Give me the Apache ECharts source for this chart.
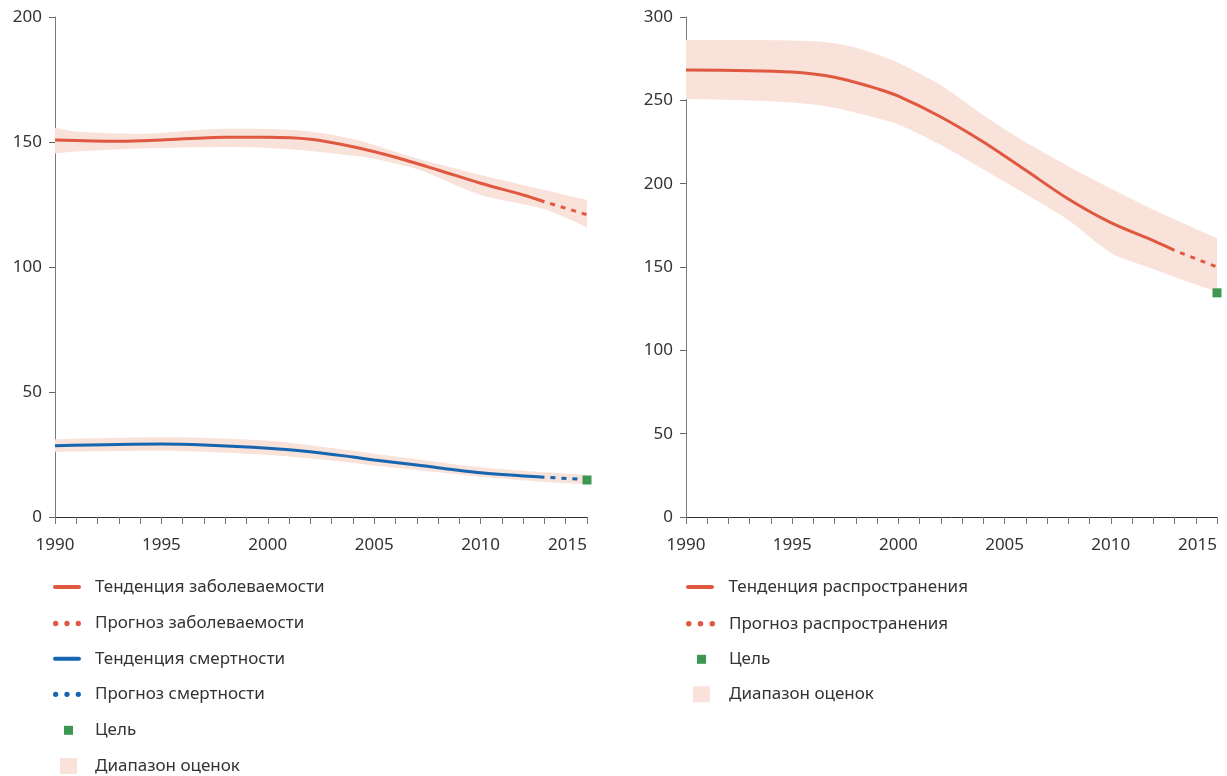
<!DOCTYPE html>
<html>
<head>
<meta charset="utf-8">
<script src="https://cdn.jsdelivr.net/npm/echarts@6/dist/echarts.min.js"></script>
<style>
html,body{margin:0;padding:0;background:#fff}
#chart{width:1227px;height:776px}
</style>
</head>
<body>
<div id="chart"></div>
<script>
// --- левый график: заболеваемость и смертность ---
var incTrendYears = [1990,1993,1995,1998,2000,2002,2004,2006,2008,2010,2012,2013];
var incTrend      = [150.8,150.3,150.8,151.9,151.9,151.1,148.1,143.9,138.8,133.5,128.8,126.1];
var incProjYears  = [2013,2015];
var incProj       = [126.1,120.9];
var incBandYears  = [1990,1991,1994,1998,2000,2002,2004,2005,2007,2008,2010,2013,2015];
var incUpper      = [155.7,154.2,153.3,155.3,155.2,154.2,151.2,148.8,143.5,141.2,136.8,130.8,126.8];
var incLower      = [145.4,146.2,147.4,148.0,147.6,146.4,144.5,143.3,139.2,135.8,128.8,123.1,115.9];

var mortTrendYears = [1990,1995,1997,2000,2002,2004,2005,2007,2010,2013];
var mortTrend      = [28.5,29.2,28.8,27.5,26.1,24.0,22.8,20.8,17.7,15.9];
var mortProjYears  = [2013,2015];
var mortProj       = [15.9,15.0];
var mortBandYears  = [1990,1995,2000,2003,2005,2007,2010,2013,2015];
var mortUpper      = [31.1,31.9,30.5,27.6,25.3,23.1,19.9,17.9,16.9];
var mortLower      = [26.1,26.5,24.8,22.6,20.6,18.8,16.1,14.0,13.1];

var leftTargetYears  = [2015];
var leftTargetValues = [14.8];

// --- правый график: распространённость ---
var prevTrendYears = [1990,1993,1995,1996,1997,1998,1999,2000,2002,2004,2006,2008,2010,2012,2013];
var prevTrend      = [268.2,267.8,267.0,265.8,263.8,260.7,257.0,252.5,240.0,225.0,208.0,190.8,176.6,165.8,160.0];
var prevProjYears  = [2013,2015];
var prevProj       = [160.0,150.0];
var prevBandYears  = [1990,1994,1996,1997,1998,1999,2000,2002,2004,2006,2008,2010,2012,2013,2015];
var prevUpper      = [286.2,286.1,285.5,284.2,281.5,277.5,272.5,259.0,241.0,224.8,210.5,197.1,184.4,178.7,167.2];
var prevLower      = [250.8,249.4,247.5,245.5,242.5,239.3,235.5,223.2,208.5,193.7,178.2,158.6,148.8,144.0,135.2];

var rightTargetYears  = [2015];
var rightTargetValues = [134.5];

var leftYTicks  = [0, 200, 50];   // min, max, шаг
var rightYTicks = [0, 300, 50];

var RED = '#e05840', BLUE = '#1565b0', BAND = '#f9e2d9', GREEN = '#3d9651';
var FONT = '"Noto Sans", sans-serif';
var TEXT = '#333';

var ICON_LINE = 'path://M2,0 L26,0 A2,2 0 0 1 26,4 L2,4 A2,2 0 0 1 2,0 Z';
var ICON_DOTS = 'path://M0,2.75 A2.75,2.75 0 1 1 5.5,2.75 A2.75,2.75 0 1 1 0,2.75 Z ' +
	'M11.75,2.75 A2.75,2.75 0 1 1 17.25,2.75 A2.75,2.75 0 1 1 11.75,2.75 Z ' +
	'M23.5,2.75 A2.75,2.75 0 1 1 29,2.75 A2.75,2.75 0 1 1 23.5,2.75 Z';

function pairs(xs, ys){
	var out = [];
	for(var i=0;i<xs.length;i++){
		out.push([xs[i], ys[i]]);
	}
	return out;
}

// полоса = нижняя граница + (верхняя - нижняя) в стеке;
// значение идёт первым измерением, чтобы стек шёл по оси Y, а не по X
function bandSeries(id, idx, years, lower, upper){
	var base = [], diff = [];
	for(var i=0;i<years.length;i++){
		base.push([lower[i], years[i]]);
		diff.push([upper[i] - lower[i], years[i]]);
	}
	return [{
		name: id + '-base', type: 'line', xAxisIndex: idx, yAxisIndex: idx,
		stack: id, data: base, encode: { x: 1, y: 0 }, smooth: 0.3, symbol: 'none',
		lineStyle: { opacity: 0, width: 0 }, silent: true, z: 1
	},{
		name: 'Диапазон оценок', type: 'line', xAxisIndex: idx, yAxisIndex: idx,
		stack: id, data: diff, encode: { x: 1, y: 0 }, smooth: 0.3, symbol: 'none',
		itemStyle: { color: BAND },
		lineStyle: { opacity: 0, width: 0 },
		areaStyle: { color: BAND, opacity: 1 }, silent: true, z: 1
	}];
}

function lineSeries(name, idx, years, values, color, dotted){
	var ls = { color: color, width: 3 };
	if(dotted){
		ls.type = [5, 6];
		ls.dashOffset = 5;
	}
	return {
		name: name, type: 'line', xAxisIndex: idx, yAxisIndex: idx,
		data: pairs(years, values), smooth: dotted ? false : 0.3, symbol: 'none',
		itemStyle: { color: color }, lineStyle: ls, z: 3
	};
}

function targetSeries(idx, years, values){
	return {
		name: 'Цель', type: 'scatter', xAxisIndex: idx, yAxisIndex: idx,
		symbol: 'rect', symbolSize: 9, itemStyle: { color: GREEN, opacity: 1 },
		data: pairs(years, values), z: 5
	};
}

function xAxisDef(idx){
	return {
		gridIndex: idx, type: 'value', min: 1990, max: 2015, interval: 1,
		axisLine: { lineStyle: { color: '#333', width: 1 } },
		axisTick: { length: 7, lineStyle: { color: '#777' } },
		axisLabel: {
			margin: 20, fontSize: 17, color: TEXT, fontFamily: FONT,
			alignMaxLabel: 'right',
			formatter: function(v){ return v % 5 === 0 ? String(v) : ''; }
		},
		splitLine: { show: false }
	};
}

function yAxisDef(idx, t){
	return {
		gridIndex: idx, type: 'value', min: t[0], max: t[1], interval: t[2],
		axisLine: { show: true, lineStyle: { color: '#7a7a7a', width: 1 } },
		axisTick: { show: true, length: 6, lineStyle: { color: '#666' } },
		axisLabel: { margin: 13, fontSize: 17, color: TEXT, fontFamily: FONT },
		splitLine: { show: false }
	};
}

// одна легенда на каждую строку, чтобы задать свой размер значка
function legendRow(name, left, centerY, w, h, icon, color, pad){
	return {
		data: [{ name: name, icon: icon, itemStyle: { color: color, borderWidth: 0 } }],
		left: left, top: centerY - 7.5, itemWidth: w, itemHeight: h, padding: 0,
		selectedMode: false,
		textStyle: { fontSize: 17, color: TEXT, fontFamily: FONT, padding: [0,0,0,pad] }
	};
}

var myCharts = echarts.init(document.getElementById('chart'));

var series = []
	.concat(bandSeries('incBand', 0, incBandYears, incLower, incUpper))
	.concat(bandSeries('mortBand', 0, mortBandYears, mortLower, mortUpper))
	.concat(bandSeries('prevBand', 1, prevBandYears, prevLower, prevUpper));
series.push(lineSeries('Тенденция заболеваемости', 0, incTrendYears, incTrend, RED, false));
series.push(lineSeries('Прогноз заболеваемости', 0, incProjYears, incProj, RED, true));
series.push(lineSeries('Тенденция смертности', 0, mortTrendYears, mortTrend, BLUE, false));
series.push(lineSeries('Прогноз смертности', 0, mortProjYears, mortProj, BLUE, true));
series.push(targetSeries(0, leftTargetYears, leftTargetValues));
series.push(lineSeries('Тенденция распространения', 1, prevTrendYears, prevTrend, RED, false));
series.push(lineSeries('Прогноз распространения', 1, prevProjYears, prevProj, RED, true));
series.push(targetSeries(1, rightTargetYears, rightTargetValues));

var option = {
	animation: false,
	backgroundColor: '#fff',
	grid: [
		{ left: 55, top: 17, width: 532, height: 500 },
		{ left: 686, top: 17, width: 531, height: 500 }
	],
	xAxis: [ xAxisDef(0), xAxisDef(1) ],
	yAxis: [ yAxisDef(0, leftYTicks), yAxisDef(1, rightYTicks) ],
	legend: [
		legendRow('Тенденция заболеваемости', 53, 586, 28, 4, ICON_LINE, RED, 9),
		legendRow('Прогноз заболеваемости', 53, 622.5, 28, 5.3, ICON_DOTS, RED, 9),
		legendRow('Тенденция смертности', 53, 657.7, 28, 4, ICON_LINE, BLUE, 9),
		legendRow('Прогноз смертности', 53, 693.3, 28, 5.3, ICON_DOTS, BLUE, 9),
		legendRow('Цель', 64, 729.3, 9, 9, 'rect', GREEN, 17),
		legendRow('Диапазон оценок', 60, 765, 17, 16, 'rect', BAND, 13),
		legendRow('Тенденция распространения', 686, 586, 29, 4, ICON_LINE, RED, 9),
		legendRow('Прогноз распространения', 686, 622.7, 29, 5.5, ICON_DOTS, RED, 9),
		legendRow('Цель', 697, 658.3, 9, 9, 'rect', GREEN, 18),
		legendRow('Диапазон оценок', 693, 693.3, 17, 16, 'rect', BAND, 14)
	],
	series: series
};
myCharts.setOption(option);
</script>
</body>
</html>
